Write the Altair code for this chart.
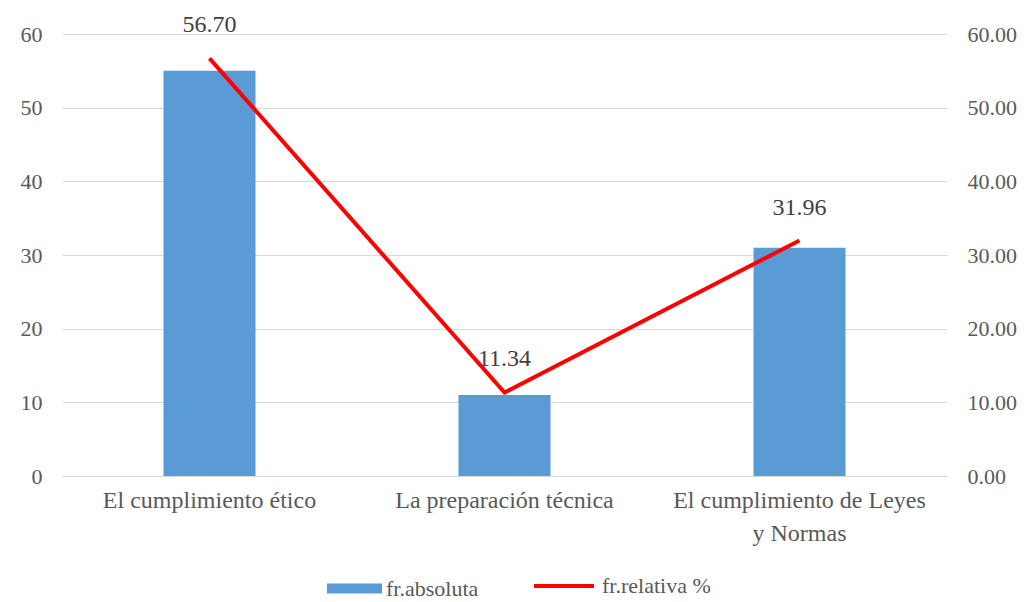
import altair as alt
import pandas as pd

categorias = ["El cumplimiento ético", "La preparación técnica", "El cumplimiento de Leyes y Normas"]
absoluta = [55, 11, 31]
relativa = [56.70, 11.34, 31.96]

df = pd.DataFrame({
    "categoria": categorias,
    "absoluta": absoluta,
    "relativa": relativa,
    "serie_a": ["fr.absoluta"] * 3,
    "serie_r": ["fr.relativa %"] * 3,
})

FONT = "Liberation Serif"
GRAY = "#595959"
TICKS = [0, 10, 20, 30, 40, 50, 60]

x_enc = alt.X(
    "categoria:N",
    sort=categorias,
    scale=alt.Scale(paddingInner=0, paddingOuter=0),
    axis=alt.Axis(
        title=None, labelAngle=0, ticks=False, domain=True, domainColor="#d9d9d9",
        labelFont=FONT, labelFontSize=24, labelColor=GRAY, labelPadding=12,
        labelLineHeight=33, labelLimit=400,
        labelExpr="datum.label == 'El cumplimiento de Leyes y Normas' ? ['El cumplimiento de Leyes', 'y Normas'] : datum.label",
    ),
)

bars = alt.Chart(df).mark_bar(size=92).encode(
    x=x_enc,
    y=alt.Y("absoluta:Q", scale=alt.Scale(domain=[0, 60]),
            axis=alt.Axis(title=None, values=TICKS, format="d",
                          ticks=False, domain=False, grid=True, gridColor="#d9d9d9",
                          labelFont=FONT, labelFontSize=22, labelColor=GRAY, labelPadding=20)),
    color=alt.Color("serie_a:N", scale=alt.Scale(range=["#5b9bd5"]),
                    legend=alt.Legend(title=None, orient="none", legendX=265, legendY=527,
                                      symbolType="M-1,-0.18L1,-0.18L1,0.18L-1,0.18Z",
                                      symbolSize=3025, symbolStrokeWidth=0, symbolOpacity=1,
                                      labelFont=FONT, labelFontSize=22, labelColor=GRAY,
                                      labelOffset=4, padding=0)),
)

line = alt.Chart(df).mark_line(strokeWidth=4).encode(
    x=alt.X("categoria:N", sort=categorias),
    y=alt.Y("relativa:Q", scale=alt.Scale(domain=[0, 60]),
            axis=alt.Axis(title=None, orient="right", values=TICKS,
                          format=".2f", ticks=False, domain=False, grid=False,
                          labelFont=FONT, labelFontSize=22, labelColor=GRAY, labelPadding=20)),
    stroke=alt.Stroke("serie_r:N", scale=alt.Scale(range=["#ff0000"]),
                      legend=alt.Legend(title=None, orient="none", legendX=470, legendY=520,
                                        symbolType="stroke", symbolSize=3600,
                                        symbolStrokeWidth=4,
                                        labelFont=FONT, labelFontSize=22, labelColor=GRAY,
                                        labelOffset=6, padding=0)),
)

labels = alt.Chart(df).mark_text(font=FONT, fontSize=24, color="#404040", dy=-33).encode(
    x=alt.X("categoria:N", sort=categorias),
    y=alt.Y("relativa:Q"),
    text=alt.Text("relativa:Q", format=".2f"),
)

chart = alt.layer(bars, alt.layer(line, labels)).resolve_scale(
    y="independent", color="independent"
).properties(
    width=885, height=442,
    background="white",
    autosize=alt.AutoSizeParams(type="none"),
    padding={"left": 62, "top": 34, "right": 86, "bottom": 126},
).configure_view(stroke=None)

chart.save("out.html", embed_options={"renderer": "svg", "actions": False})
